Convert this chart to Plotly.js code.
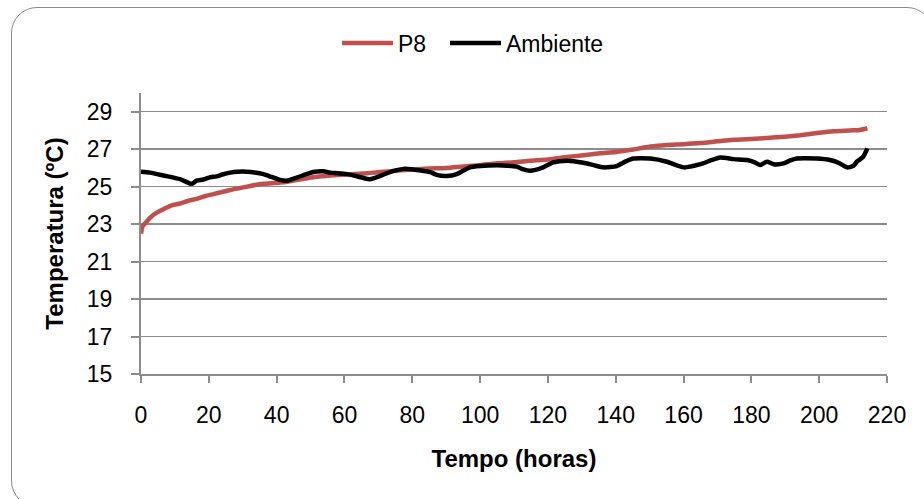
<!DOCTYPE html>
<html>
<head>
<meta charset="utf-8">
<script src="https://cdn.plot.ly/plotly-3.0.1.min.js"></script>
<style>
  html, body { margin: 0; padding: 0; background: #fff; }
  #wrap { position: relative; width: 924px; height: 499px; }
  #chart { position: absolute; left: 0; top: 0; width: 924px; height: 499px; }
  #frame { position: absolute; left: 11px; top: 7px; width: 922px; height: 500px;
           box-sizing: border-box; border: 1.5px solid #8a8a8a; border-radius: 26px;
           pointer-events: none; }
</style>
</head>
<body>
<div id="wrap">
  <div id="chart"></div>
  <div id="frame"></div>
</div>
<script>
// ---- data ----
const p8Time = [0, 0.5, 1.5, 2.7, 4.5, 6.6, 9, 11.5, 14, 16.4, 19, 21.3, 24, 26.3, 29, 31.2, 34, 36.1, 38.5, 41,
  43.5, 45.9, 48.5, 50.8, 53.3, 55.8, 60.7, 65.6, 70.5, 75.4, 80, 85.3, 90, 95, 100, 104.9, 110, 114.7, 120,
  125.6, 130.5, 135.4, 140, 145.2, 148, 150.2, 155.1, 160, 165, 170, 174.7, 180, 184.6, 190, 194.4, 200,
  204.3, 209.1, 212, 214.2];
const p8Temp = [22.5, 22.9, 23.1, 23.35, 23.6, 23.8, 24.0, 24.1, 24.25, 24.35, 24.5, 24.6, 24.72, 24.82, 24.92,
  25.0, 25.1, 25.15, 25.18, 25.22, 25.28, 25.35, 25.43, 25.5, 25.55, 25.6, 25.65, 25.7, 25.78, 25.85, 25.92,
  25.97, 26.0, 26.08, 26.15, 26.25, 26.3, 26.38, 26.45, 26.58, 26.68, 26.78, 26.85, 26.98, 27.08, 27.15,
  27.23, 27.27, 27.33, 27.42, 27.5, 27.55, 27.6, 27.67, 27.75, 27.88, 27.96, 28.0, 28.03, 28.12];

const ambTime = [0, 2.7, 6.6, 11.5, 15, 16.4, 18.4, 20.4, 22.3, 24, 26.3, 28.5, 31.2, 33.5, 36.1, 38.5, 41, 43,
  45.9, 48.5, 50.8, 53.8, 55.8, 58, 60.7, 63, 65.6, 67.5, 70.5, 73, 75.4, 77.4, 80.3, 83, 85.3, 87.2, 90.2,
  93.1, 95, 97, 100, 104.9, 108, 110.8, 112.8, 114.7, 118.6, 121.6, 125.6, 130.5, 133.5, 136.4, 140.3, 143,
  145.2, 150.2, 155.1, 160, 165, 168, 170.8, 174.8, 178.7, 181, 182.6, 184.6, 186.6, 189.5, 191.5, 193.4,
  199.3, 203.2, 206, 208.2, 210, 211.1, 213, 214.2];
const ambTemp = [25.8, 25.75, 25.6, 25.4, 25.15, 25.32, 25.38, 25.5, 25.55, 25.65, 25.75, 25.8, 25.8, 25.76,
  25.67, 25.52, 25.36, 25.32, 25.48, 25.65, 25.78, 25.82, 25.75, 25.72, 25.67, 25.58, 25.46, 25.4, 25.57,
  25.75, 25.88, 25.95, 25.92, 25.85, 25.78, 25.63, 25.57, 25.67, 25.85, 26.03, 26.1, 26.14, 26.12, 26.07,
  25.92, 25.85, 26.03, 26.3, 26.39, 26.28, 26.15, 26.03, 26.1, 26.35, 26.5, 26.5, 26.33, 26.03, 26.2, 26.4,
  26.56, 26.47, 26.42, 26.3, 26.15, 26.33, 26.2, 26.24, 26.4, 26.5, 26.5, 26.42, 26.25, 26.03, 26.1, 26.33,
  26.6, 27.04];

const seriesNames = ["P8", "Ambiente"];
const xTitle = "Tempo (horas)";
const yTitle = "Temperatura (ºC)";

// ---- chart ----
const FONT = "Liberation Sans, Arial, sans-serif";
const GRID = "#8c8c8c";

const traces = [
  { x: p8Time, y: p8Temp, name: seriesNames[0], type: "scatter", mode: "lines", legend: "legend",
    line: { color: "#C0504D", width: 4.5, shape: "spline", smoothing: 0.6 } },
  { x: ambTime, y: ambTemp, name: seriesNames[1], type: "scatter", mode: "lines", legend: "legend2",
    line: { color: "#000000", width: 4.5, shape: "spline", smoothing: 0.6 } }
];

// legend positions given in pixels, converted to paper fractions of the plot area
const M = { l: 141, r: 37, t: 93, b: 125 };
const plotW = 924 - M.l - M.r, plotH = 499 - M.t - M.b;
const px2x = px => (px - M.l) / plotW;
const py2y = py => (499 - M.b - py) / plotH;

const legendStyle = (left) => ({
  orientation: "h", x: px2x(left), y: py2y(43), xanchor: "left", yanchor: "middle",
  font: { family: FONT, size: 23 }, itemwidth: 51, bgcolor: "rgba(0,0,0,0)", borderwidth: 0
});

const layout = {
  width: 924, height: 499,
  margin: M,
  paper_bgcolor: "#ffffff", plot_bgcolor: "#ffffff",
  font: { family: FONT, size: 23, color: "#000" },
  showlegend: true,
  legend: legendStyle(337),
  legend2: legendStyle(445),
  xaxis: {
    range: [0, 220], tick0: 0, dtick: 20, showgrid: false, zeroline: false,
    showline: true, linecolor: GRID, linewidth: 2,
    ticks: "outside", ticklen: 7, tickcolor: GRID, tickwidth: 2,
    tickfont: { family: FONT, size: 23 }, ticklabelstandoff: 12,
    title: { text: xTitle, font: { family: FONT, size: 24, weight: "bold" }, standoff: 24 },
    fixedrange: true
  },
  yaxis: {
    range: [15, 30], tick0: 15, dtick: 2, showgrid: true, gridcolor: GRID, gridwidth: 1.5,
    zeroline: false, showline: true, linecolor: GRID, linewidth: 2,
    ticks: "outside", ticklen: 8, tickcolor: GRID, tickwidth: 2,
    tickfont: { family: FONT, size: 23 }, ticklabelstandoff: 14,
    title: { text: yTitle, font: { family: FONT, size: 24, weight: "bold" }, standoff: 16 },
    fixedrange: true
  }
};

Plotly.newPlot("chart", traces, layout, { displayModeBar: false, staticPlot: true });
</script>
</body>
</html>
